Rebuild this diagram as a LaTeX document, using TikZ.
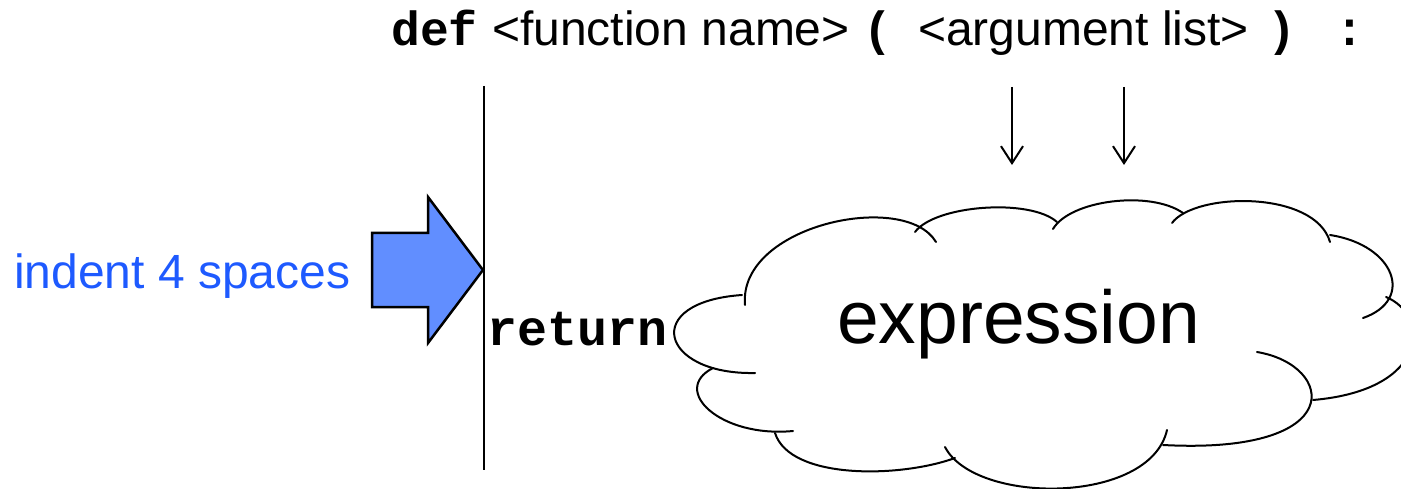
\documentclass[tikz,border=0pt]{standalone}
\usepackage{fontspec}
\usetikzlibrary{arrows.meta}
\newfontfamily\hv{Liberation Sans}
\newfontfamily\cour{Liberation Mono}
\definecolor{arrowblue}{RGB}{97,142,255}
\definecolor{textblue}{RGB}{30,90,255}
\tikzset{
  lbl/.style={inner sep=0pt, anchor=base west},
  helv/.style={lbl, font=\hv\fontsize{48}{56}\selectfont},
  code/.style={lbl, font=\cour\bfseries\fontsize{48}{56}\selectfont},
  bump/.style={line width=2pt, line cap=round},
  downarrow/.style={line width=2pt, -{Straight Barb[length=17pt, width=22pt, line width=2pt]}},
  indentarrow/.style={line width=2.5pt, fill=arrowblue, line join=miter},
  rule/.style={line width=2.5pt}
}
\begin{document}
\begin{tikzpicture}[x=1pt, y=-1pt]
\useasboundingbox (0,0) rectangle (1401,489);
\clip (0,0) rectangle (1401,489);
% top line
\node[code] (def) at (391,46) {def};
\node[helv] (fname) at (492,46) {<function name>};
\node[code] (lpar) at (863.6,46) {(};
\node[helv] (args) at (918,46) {<argument list>};
\node[code] (rpar) at (1267.6,46) {)};
\node[code] (colon) at (1335.6,46) {:};
% vertical rule
\coordinate (ruletop) at (484,86);
\coordinate (rulebot) at (484,470);
\draw[rule] (ruletop) -- (rulebot);
% down arrows
\coordinate (a1s) at (1012,87);
\coordinate (a1e) at (1012,165);
\coordinate (a2s) at (1124,87);
\coordinate (a2e) at (1124,165);
\draw[downarrow] (a1s) -- (a1e);
\draw[downarrow] (a2s) -- (a2e);
% indent arrow
\draw[indentarrow] (372,233) -- (428,233) -- (428,197) -- (483,270) -- (428,343) -- (428,307) -- (372,307) -- cycle;
\node[helv, text=textblue] (indent) at (14,288) {indent 4 spaces};
% return
\node[code, font=\cour\bfseries\fontsize{50}{58}\selectfont] (ret) at (487,345) {return};
% cloud
\draw[bump] (745,305) .. controls (738,225) and (905,190) .. (936,242);
\draw[bump] (915,232) .. controls (935,205) and (1030,198) .. (1057,222);
\draw[bump] (1053,229) .. controls (1070,200) and (1150,190) .. (1183,213);
\draw[bump] (1172,223) .. controls (1195,192) and (1315,190) .. (1330,242);
\draw[bump] (1330,235) .. controls (1395,245) and (1415,300) .. (1363,318);
\draw[bump] (1386,297) .. controls (1430,315) and (1430,390) .. (1313,400);
\draw[bump] (1257,352) .. controls (1335,365) and (1350,455) .. (1163,445);
\draw[bump] (1167,430) .. controls (1150,505) and (975,505) .. (945,447);
\draw[bump] (955,458) .. controls (900,478) and (790,480) .. (775,433);
\draw[bump] (793,431) .. controls (720,438) and (670,390) .. (713,368);
\draw[bump] (755,373) .. controls (660,375) and (640,302) .. (742,295);
\node[lbl, font=\hv\fontsize{75}{85}\selectfont] (expr) at (837,343) {expression};
\end{tikzpicture}
\end{document}
